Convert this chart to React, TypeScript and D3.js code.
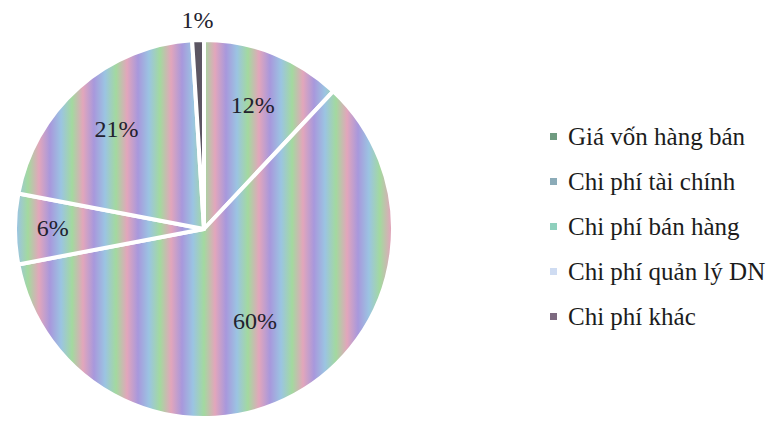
import React, { useEffect, useRef } from 'react';
import * as d3 from 'd3';

// cost structure, slices clockwise from 12 o'clock
const categories = [
  'Giá vốn hàng bán',
  'Chi phí tài chính',
  'Chi phí bán hàng',
  'Chi phí quản lý DN',
  'Chi phí khác',
];
const values = [12, 60, 6, 21, 1];
const legendColors = ['#6f9b80', '#8babb8', '#8fd0bd', '#cfdcf2', '#7d6a80'];

// the scanned pie shows a pastel moire instead of flat fills
const moireStops = ['#a3d99f', '#e2a6bb', '#a898dc', '#9bc4e2', '#a3d99f'];

const W = 781;
const H = 421;

const App = () => {
  const svgRef = useRef<SVGSVGElement | null>(null);

  useEffect(() => {
    if (!svgRef.current) return;
    const svg = d3.select(svgRef.current);
    svg.selectAll('*').remove();

    const cx = 204;
    const cy = 229;
    const radius = 189;
    const font = '"Liberation Serif", "DejaVu Serif", serif';

    const defs = svg.append('defs');
    const grad = defs.append('linearGradient')
      .attr('id', 'moire')
      .attr('gradientUnits', 'userSpaceOnUse')
      .attr('spreadMethod', 'repeat')
      .attr('x1', 0).attr('y1', 0)
      .attr('x2', 44).attr('y2', 0);
    moireStops.forEach((c, i) => {
      grad.append('stop')
        .attr('offset', i / (moireStops.length - 1))
        .attr('stop-color', c);
    });

    const g = svg.append('g').attr('transform', `translate(${cx},${cy})`);

    const pie = d3.pie<number>().sort(null).value(d => d);
    const arcs = pie(values);
    const arc = d3.arc<d3.PieArcDatum<number>>().innerRadius(0).outerRadius(radius);

    g.selectAll('path.slice')
      .data(arcs)
      .join('path')
      .attr('class', 'slice')
      .attr('d', arc)
      .attr('fill', d => (d.data < 3 ? '#5b5562' : 'url(#moire)'))
      .attr('stroke', '#fff')
      .attr('stroke-width', 4)
      .attr('stroke-linejoin', 'round');

    // label distance roughly follows what the spreadsheet did
    const labelFactor = (v: number) => {
      if (v < 3) return 1.1;
      if (v < 10) return 0.8;
      if (v < 30) return 0.7;
      return 0.56;
    };

    g.selectAll('text.pct')
      .data(arcs)
      .join('text')
      .attr('class', 'pct')
      .attr('transform', d => {
        const a = (d.startAngle + d.endAngle) / 2;
        const r = radius * labelFactor(d.data);
        return `translate(${Math.sin(a) * r},${-Math.cos(a) * r})`;
      })
      .attr('text-anchor', 'middle')
      .attr('dy', '0.3em')
      .attr('font-family', font)
      .attr('font-size', 24)
      .attr('fill', '#22222e')
      .text(d => `${d.data}%`);

    // legend
    const legend = svg.append('g').attr('transform', 'translate(550,136)');
    const rowStep = 45;
    const rows = legend.selectAll('g.row')
      .data(categories)
      .join('g')
      .attr('class', 'row')
      .attr('transform', (_, i) => `translate(0,${i * rowStep})`);

    rows.append('rect')
      .attr('x', 0)
      .attr('y', -3)
      .attr('width', 7)
      .attr('height', 7)
      .attr('fill', (_, i) => legendColors[i]);

    rows.append('text')
      .attr('x', 18)
      .attr('dy', '0.35em')
      .attr('font-family', font)
      .attr('font-size', 25)
      .attr('fill', '#1c1c1c')
      .text(d => d);
  }, []);

  return (
    <svg
      ref={svgRef}
      width={W}
      height={H}
      style={{ position: 'absolute', left: 0, top: 0, background: '#fff' }}
    />
  );
};

export default App;
